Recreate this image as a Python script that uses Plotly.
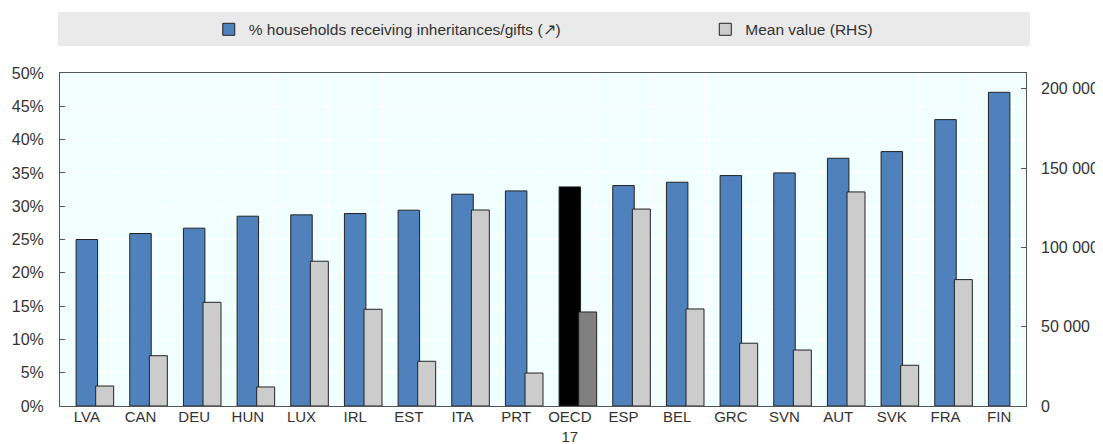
import plotly.graph_objects as go

categories = ["LVA", "CAN", "DEU", "HUN", "LUX", "IRL", "EST", "ITA", "PRT", "OECD<br>17",
              "ESP", "BEL", "GRC", "SVN", "AUT", "SVK", "FRA", "FIN"]
pct_households = [0.250, 0.259, 0.267, 0.285, 0.287, 0.289, 0.294, 0.318, 0.323, 0.329,
                  0.331, 0.336, 0.346, 0.350, 0.372, 0.382, 0.430, 0.471]
mean_value = [12600, 31700, 65400, 12000, 91300, 61000, 28200, 123600, 20800, 59300,
              124200, 61200, 39600, 35300, 135000, 25700, 79700, None]
left_ticks = [0, 0.05, 0.10, 0.15, 0.20, 0.25, 0.30, 0.35, 0.40, 0.45, 0.50]
right_ticks = [0, 50000, 100000, 150000, 200000]
right_ticktext = ["0", "50 000", "100 000", "150 000", "200 000"]

blue = "#4F81BD"
grey = "#CCCCCC"
blue_colors = ["#000000" if c.startswith("OECD") else blue for c in categories]
grey_colors = ["#808080" if c.startswith("OECD") else grey for c in categories]

fig = go.Figure()
fig.add_trace(go.Bar(
    x=categories, y=pct_households, name="% households receiving inheritances/gifts (↗)",
    marker=dict(color=blue_colors, line=dict(color="#222222", width=1)),
    width=0.4, offset=-0.2, legend="legend", yaxis="y",
))
fig.add_trace(go.Bar(
    x=categories, y=mean_value, name="Mean value (RHS)",
    marker=dict(color=grey_colors, line=dict(color="#222222", width=1)),
    width=0.335, offset=0.165, legend="legend2", yaxis="y2",
))

font = "Liberation Sans, Arial, sans-serif"
tick_font = dict(family=font, size=16, color="#333333")
x_font = dict(family=font, size=15, color="#333333")
legend_font = dict(family=font, size=15.5, color="#333333")
# page body has an 8px default margin, so the figure is 8px smaller than the window
fig.update_layout(
    width=1095, height=436,
    margin=dict(l=52, r=77, t=65, b=38, autoexpand=False),
    paper_bgcolor="white",
    plot_bgcolor="#F2FFFF",
    font=dict(family=font, size=16, color="#333333"),
    barmode="overlay",
    showlegend=True,
    legend=dict(orientation="h", x=0.154, xanchor="left", y=1.13, yanchor="middle",
                bgcolor="rgba(0,0,0,0)", font=legend_font),
    legend2=dict(orientation="h", x=0.668, xanchor="left", y=1.13, yanchor="middle",
                 bgcolor="rgba(0,0,0,0)", font=legend_font),
    xaxis=dict(
        type="category", tickson="boundaries", showgrid=True, gridcolor="white", gridwidth=1,
        ticks="", showline=True, linecolor="#555555", linewidth=1, mirror=True,
        tickfont=x_font, tickangle=0, automargin=False, ticklabelstandoff=-3,
    ),
    yaxis=dict(
        range=[0, 0.5], tickvals=left_ticks, tickformat=".0%",
        showgrid=True, gridcolor="white", gridwidth=1, zeroline=False,
        ticks="inside", ticklen=5, tickcolor="#555555",
        showline=True, linecolor="#555555", linewidth=1, mirror=True,
        ticklabelstandoff=12, tickfont=tick_font, automargin=False,
    ),
    yaxis2=dict(
        range=[0, 210000], overlaying="y", side="right",
        tickvals=right_ticks, ticktext=right_ticktext,
        showgrid=False, zeroline=False, ticks="inside", ticklen=5, tickcolor="#555555",
        ticklabelstandoff=14, tickfont=tick_font, automargin=False,
    ),
    shapes=[dict(type="rect", xref="paper", yref="paper",
                 x0=-0.002, x1=1.004, y0=1.081, y1=1.183,
                 fillcolor="#EAEAEA", line=dict(width=0), layer="below")],
)

fig.write_html("out.html")
